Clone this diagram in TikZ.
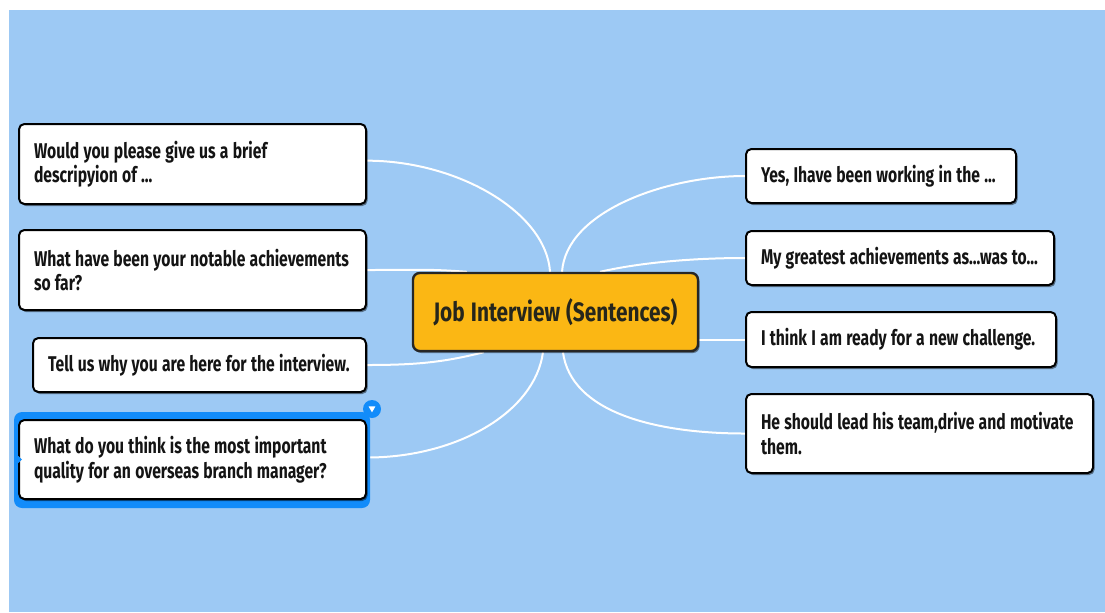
\documentclass[tikz,border=0pt]{standalone}
\usepackage{fontspec}
\newfontfamily\boxfont{Fira Sans}[FakeStretch=0.735]
\newfontfamily\hubfont{Fira Sans}[FakeStretch=0.78]
\usetikzlibrary{shadows,backgrounds}
\definecolor{bgblue}{RGB}{157,201,244}
\definecolor{hubor}{RGB}{251,183,20}
\definecolor{hubtext}{RGB}{38,38,28}
\definecolor{selblue}{RGB}{18,140,250}
\newcommand\leafspacing{\spaceskip=3.2pt plus 1pt\relax}
\newcommand\hubspacing{\spaceskip=4.6pt\relax}
\begin{document}
\begin{tikzpicture}[x=0.75pt,y=-0.75pt,
  leaf/.style={draw=black, line width=1.5pt, fill=white, rounded corners=4pt,
    align=left, inner xsep=11.25pt, inner ysep=0pt, text=black!92,
    drop shadow={shadow xshift=1.2pt, shadow yshift=-1.5pt, opacity=0.45, fill=black},
    font=\boxfont\bfseries\fontsize{16pt}{18.4pt}\selectfont,
    execute at begin node=\leafspacing},
  hub/.style={draw=black!85, line width=1.8pt, fill=hubor, rounded corners=5pt,
    minimum width=213.75pt, minimum height=58.5pt, text=hubtext,
    drop shadow={shadow xshift=1.2pt, shadow yshift=-1.5pt, opacity=0.45, fill=black},
    font=\hubfont\bfseries\fontsize{20pt}{22pt}\selectfont,
    execute at begin node=\hubspacing},
  link/.style={draw=white, line width=1.5pt}
]
\useasboundingbox (0,0) rectangle (1105,612);

% central topic
\node[hub] (c) at (555.5,312) {Job Interview (Sentences)};

% questions on the left
\node[leaf, text width=237.75pt, minimum height=60pt] (l1) at (192.5,164)
  {\mbox{Would you please give us a brief}\\descripyion of ...};
\node[leaf, text width=237.75pt, minimum height=60pt] (l2) at (192.5,270)
  {\mbox{What have been your notable achievements}\\so far?};
\node[leaf, text width=227.25pt, minimum height=40.5pt] (l3) at (199.5,365)
  {\mbox{Tell us why you are here for the interview.}};
\node[leaf, text width=237.75pt, minimum height=59.25pt] (l4) at (192.5,459.5)
  {\mbox{What do you think is the most important}\\\mbox{quality for an overseas branch manager?}};

% answers on the right
\node[leaf, text width=180pt, minimum height=40.5pt] (r1) at (881,176)
  {\mbox{Yes, Ihave been working in the ...}};
\node[leaf, text width=208.5pt, minimum height=40.5pt] (r2) at (900,258)
  {\mbox{My greatest achievements as...was to...}};
\node[leaf, text width=210pt, minimum height=41.25pt] (r3) at (901,339.5)
  {\mbox{I think I am ready for a new challenge.}};
\node[leaf, text width=237.75pt, minimum height=59.25pt] (r4) at (919.5,433.5)
  {\mbox{He should lead his team,drive and motivate}\\them.};

\begin{scope}[on background layer]
  \fill[white] (0,0) rectangle (1105,612);
  \fill[bgblue] (9,10) rectangle (1105,612);
  % branches
  \draw[link] ([yshift=2.5pt]l1.east) .. controls +(90,0) and +(-4,-60) .. ([xshift=-4.1pt]c.north);
  \draw[link] (l2.east) .. controls +(50,0) and +(-40,-3) .. ([xshift=-66.4pt]c.north);
  \draw[link] (l3.east) .. controls +(50,0) and +(-40,10) .. ([xshift=54pt]c.south west);
  \draw[link] ([yshift=1.5pt]l4.east) .. controls +(90,0) and +(-8,60) .. ([xshift=-9.4pt]c.south);
  \draw[link] (r1.west) .. controls +(-80,0) and +(4,-60) .. ([xshift=4.9pt]c.north);
  \draw[link] (r2.west) .. controls +(-60,0) and +(35,-8) .. ([xshift=33.4pt]c.north);
  \draw[link] (r3.west) -- (r3.west -| c.east);
  \draw[link] (r4.west) .. controls +(-90,0) and +(8,60) .. ([xshift=5.6pt]c.south);
  % selection frame of the active topic
  \fill[selblue, rounded corners=6pt] ([shift={(-3pt,5.25pt)}]l4.north west)
    rectangle ([shift={(2.25pt,-6pt)}]l4.south east);
\end{scope}

% selection handle and notch
\node[circle, fill=selblue, minimum size=13.5pt, inner sep=0pt] (handle)
  at ([shift={(3.75pt,7.5pt)}]l4.north east) {};
\fill[white] ([shift={(-2.6pt,2pt)}]handle.center) -- ++(5.2pt,0pt) -- ++(-2.6pt,-4.5pt) -- cycle;
\fill[selblue] ([shift={(-3pt,5.6pt)}]l4.west) -- ++(6pt,-5.6pt) -- ++(-6pt,-5.6pt) -- cycle;
\end{tikzpicture}
\end{document}
